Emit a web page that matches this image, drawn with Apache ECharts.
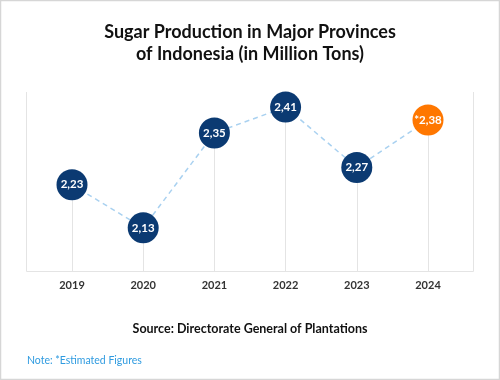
<!DOCTYPE html>
<html><head><meta charset="utf-8">
<script src="https://cdn.jsdelivr.net/npm/echarts@6/dist/echarts.min.js"></script>
<style>html,body{margin:0;padding:0;background:#fff}#c{width:500px;height:380px}</style>
</head><body><div id="c"></div>
<script>
const categories = ['2019','2020','2021','2022','2023','2024'];
const values = [2.23, 2.13, 2.35, 2.41, 2.27, 2.38];
const estimated = [false, false, false, false, false, true];
const titleText = 'Sugar Production in Major Provinces\nof Indonesia (in Million Tons)';
const sourceText = 'Source: Directorate General of Plantations';
const noteText = 'Note: *Estimated Figures';

const NAVY = '#0b3a72', ORANGE = '#ff7700';
const Y_MIN = 2.03, Y_MAX = 2.445;
const fmt = v => v.toFixed(2).replace('.', ',');

const chart = echarts.init(document.getElementById('c'));
chart.setOption({
  animation: false,
  backgroundColor: '#fff',
  title: {
    text: titleText, left: 'center', top: 16,
    textStyle: {fontFamily: 'Lato', fontWeight: 'bold', fontSize: 18, lineHeight: 22, color: '#111'}
  },
  grid: {left: 72, right: 72, top: 92, bottom: 109, containLabel: false},
  xAxis: {
    type: 'category', data: categories, boundaryGap: false,
    axisLine: {show: false}, axisTick: {show: false},
    axisLabel: {margin: 9, fontFamily: 'Lato', fontWeight: 'bold', fontSize: 11, color: '#333'},
    splitLine: {show: false}
  },
  yAxis: {type: 'value', min: Y_MIN, max: Y_MAX, show: false},
  graphic: [
    {type: 'rect', shape: {x: 0.5, y: 0.5, width: 499, height: 379}, style: {fill: 'none', stroke: '#d6d6d6', lineWidth: 1.5}},
    {type: 'polyline', shape: {points: [[26.5, 92], [26.5, 271.5], [473.5, 271.5], [473.5, 92]]}, style: {fill: 'none', stroke: '#e4e4e4', lineWidth: 1}},
    {type: 'text', left: 'center', top: 322, style: {text: sourceText, font: 'bold 12.5px Lato', fill: '#111'}},
    {type: 'text', left: 27, top: 355, style: {text: noteText, font: '10.5px Lato', fill: '#2f9be0'}}
  ],
  series: [{
    type: 'line', data: values.map((v, i) => ({
      value: v,
      itemStyle: {color: estimated[i] ? ORANGE : NAVY},
      label: {formatter: (estimated[i] ? '*' : '') + fmt(v)}
    })),
    symbol: 'circle', symbolSize: 31,
    lineStyle: {color: '#a9d1f0', width: 1.5, type: [5, 4]},
    label: {show: true, position: 'inside', color: '#fff', fontFamily: 'Lato', fontWeight: 'bold', fontSize: 11.5},
    markLine: {
      silent: true, symbol: 'none', label: {show: false}, z: 1,
      lineStyle: {color: '#e4e4e4', width: 1, type: 'solid'},
      data: values.map((v, i) => [{coord: [i, v]}, {coord: [i, Y_MIN]}])
    },
    z: 3
  }]
});
</script></body></html>
